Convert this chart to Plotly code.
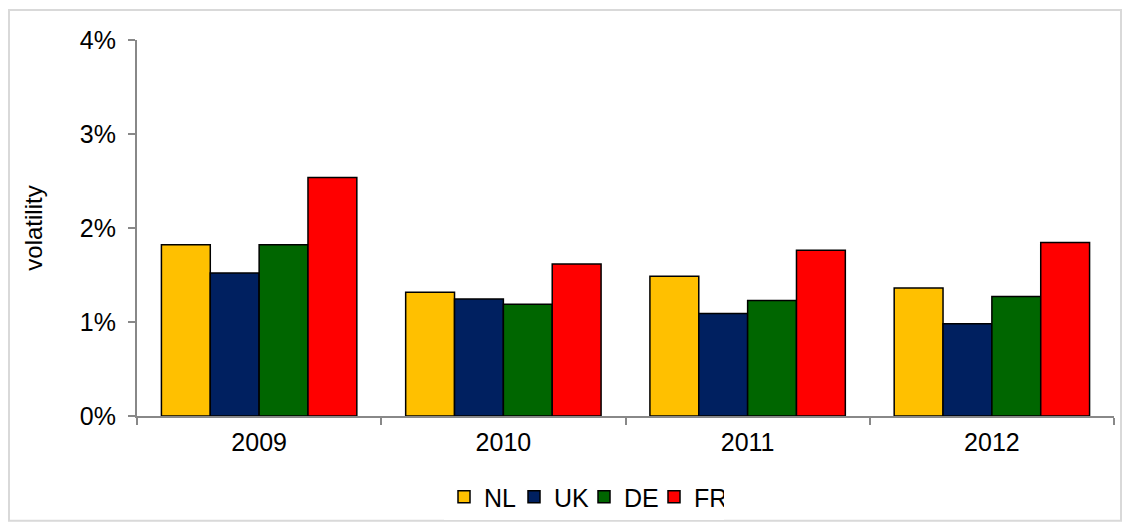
import plotly.graph_objects as go

years = ["2009", "2010", "2011", "2012"]
series_names = ["NL", "UK", "DE", "FR"]
nl = [0.01823, 0.01316, 0.01486, 0.01363]
uk = [0.01522, 0.01246, 0.01090, 0.00981]
de = [0.01823, 0.01189, 0.01228, 0.01271]
fr = [0.02537, 0.01618, 0.01762, 0.01847]
colors = ["#FFC000", "#002060", "#006600", "#FF0000"]
y_ticks = [0, 0.01, 0.02, 0.03, 0.04]

FONT = "Liberation Sans, Arial, sans-serif"

fig = go.Figure()
for name, vals, col in zip(series_names, [nl, uk, de, fr], colors):
    fig.add_trace(go.Bar(
        x=years, y=vals, name=name,
        marker=dict(color=col, line=dict(color="black", width=1.5)),
    ))

# page body has an 8px margin; figure occupies (8..1130, 8..531) of the window
OFF = 8
W, H = 1130 - OFF, 531 - OFF
L, R, T, B = 137 - OFF, 16, 40 - OFF, 114
pw, ph = W - L - R, H - T - B

def px(x):
    return (x - OFF - L) / pw

def py(y):
    return (H - B - (y - OFF)) / ph

fig.update_layout(
    width=W, height=H,
    margin=dict(l=L, r=R, t=T, b=B),
    paper_bgcolor="white", plot_bgcolor="white",
    barmode="group", bargap=0.2, bargroupgap=0,
    font=dict(family=FONT, size=25, color="black"),
    showlegend=True,
    legend=dict(orientation="h", x=px(584), xanchor="center", y=py(497), yanchor="middle",
                font=dict(size=25), itemwidth=30, entrywidth=25, entrywidthmode="pixels"),
    xaxis=dict(
        showline=True, linecolor="#888888", linewidth=2,
        ticks="outside", tickson="boundaries", ticklen=7, tickcolor="#888888", tickwidth=2,
        showgrid=False, tickfont=dict(size=25), ticklabelstandoff=3,
    ),
    yaxis=dict(
        range=[0, 0.04], tickvals=y_ticks, tickformat=".0%",
        showline=True, linecolor="#888888", linewidth=2,
        ticks="outside", ticklen=7, tickcolor="#888888", tickwidth=2,
        showgrid=False, zeroline=False, tickfont=dict(size=25), ticklabelstandoff=7,
        title=dict(text="volatility", font=dict(size=24), standoff=30),
    ),
    shapes=[dict(type="rect", xref="paper", yref="paper",
                 x0=px(9), x1=px(1121), y0=py(522), y1=py(10),
                 line=dict(color="#D9D9D9", width=2), fillcolor="rgba(0,0,0,0)", layer="below")],
)

fig.write_html("out.html")
